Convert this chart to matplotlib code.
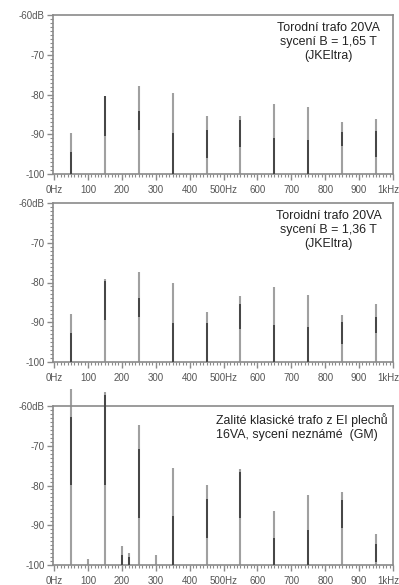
import numpy as np
import matplotlib
matplotlib.use("Agg")
import matplotlib.pyplot as plt
import matplotlib.transforms as mtransforms
from matplotlib.ticker import MultipleLocator, FixedLocator, FixedFormatter

plt.rcParams['font.family'] = ['Liberation Sans', 'DejaVu Sans']

# ---- data ----
freqs = [50, 150, 250, 350, 450, 550, 650, 750, 850, 950]

p1_top     = [-89.8, -80.3, -77.9, -79.7, -85.3, -85.3, -82.5, -83.1, -87.0, -86.2]
p1_dark_hi = [-94.4, -80.5, -84.2, -89.8, -89.0, -86.4, -91.0, -91.5, -89.4, -89.2]
p1_dark_lo = [-100.0, -90.4, -89.0, -100.0, -96.0, -93.1, -100.0, -100.0, -93.0, -95.6]

p2_top     = [-88.0, -79.2, -77.3, -80.2, -87.4, -83.4, -81.1, -83.2, -88.2, -85.3]
p2_dark_hi = [-92.8, -79.5, -84.0, -90.1, -90.3, -85.3, -90.7, -91.2, -89.9, -88.6]
p2_dark_lo = [-100.0, -89.5, -88.6, -100.0, -100.0, -91.6, -100.0, -100.0, -95.4, -92.8]

p3_freqs   = [50, 100, 150, 200, 220, 250, 300, 350, 450, 550, 650, 750, 850, 950]
p3_top     = [-55.6, -98.5, -56.6, -95.3, -97.0, -64.9, -97.5, -75.5, -79.9, -75.9, -86.5, -82.4, -81.6, -92.1]
p3_dark_hi = [-62.8, -98.5, -57.3, -97.5, -98.0, -70.7, -97.5, -87.7, -83.3, -76.5, -93.3, -91.2, -83.7, -94.6]
p3_dark_lo = [-79.9, -98.5, -79.9, -100.0, -100.0, -88.3, -97.5, -100.0, -93.3, -88.3, -100.0, -100.0, -90.8, -99.2]

x_ticks = [0, 100, 200, 300, 400, 500, 600, 700, 800, 900, 1000]
x_labels = ["0Hz", "100", "200", "300", "400", "500Hz", "600", "700", "800", "900", "1kHz"]
y_ticks = [-100, -90, -80, -70, -60]
y_labels = ["-100", "-90", "-80", "-70", "-60dB"]

titles = [
    "Torodní trafo 20VA\nsycení B = 1,65 T\n(JKEltra)",
    "Toroidní trafo 20VA\nsycení B = 1,36 T\n(JKEltra)",
    "Zalité klasické trafo z EI plechů\n16VA, sycení neznámé  (GM)",
]

W, H = 399, 585
fig = plt.figure(figsize=(W / 100, H / 100), dpi=100)
fig.patch.set_facecolor("white")

left_px, right_px = 53, 393
panels = [(15, 174), (203, 362), (406, 565)]
data = [
    (freqs, p1_top, p1_dark_hi, p1_dark_lo),
    (freqs, p2_top, p2_dark_hi, p2_dark_lo),
    (p3_freqs, p3_top, p3_dark_hi, p3_dark_lo),
]

edge = "#8a8a8a"
for i, ((t, b), (f, top, dhi, dlo)) in enumerate(zip(panels, data)):
    ax = fig.add_axes([left_px / W, 1 - b / H, (right_px - left_px) / W, (b - t) / H])
    ax.set_xlim(-3, 1000)
    ax.set_ylim(-100, -60)
    ax.vlines(f, -100, top, colors="#a0a0a0", lw=1.5, clip_on=False, zorder=2)
    ax.vlines(f, dlo, dhi, colors="#454545", lw=1.4, clip_on=False, zorder=3)
    for s in ax.spines.values():
        s.set_color(edge)
        s.set_linewidth(1.2)
    ax.xaxis.set_major_locator(FixedLocator(x_ticks))
    ax.xaxis.set_major_formatter(FixedFormatter(x_labels))
    ax.xaxis.set_minor_locator(MultipleLocator(10))
    ax.yaxis.set_major_locator(FixedLocator(y_ticks))
    ax.yaxis.set_major_formatter(FixedFormatter(y_labels))
    ax.yaxis.set_minor_locator(MultipleLocator(1))
    ax.tick_params(axis="both", which="major", direction="out", length=4,
                   width=1.0, color=edge, labelsize=7, labelcolor="#555555")
    ax.tick_params(axis="both", which="minor", direction="out", length=2.5,
                   width=0.8, color=edge)
    ax.tick_params(axis="x", which="major", pad=4)
    ax.tick_params(axis="y", which="major", pad=2)
    ax.set_facecolor("white")
    fig.canvas.draw()
    lbl = ax.get_xticklabels()[-1]
    lbl.set_transform(lbl.get_transform() + mtransforms.ScaledTranslation(-5 / 100, 0, fig.dpi_scale_trans))
    if i < 2:
        ax.text(0.81, 0.955, titles[i], transform=ax.transAxes, ha="center", va="top",
                fontsize=8.9, color="#222222", linespacing=1.2)
    else:
        ax.text(0.48, 0.955, titles[i], transform=ax.transAxes, ha="left", va="top",
                fontsize=8.9, color="#222222", linespacing=1.2)

fig.savefig("out.png", dpi=100, facecolor="white")
